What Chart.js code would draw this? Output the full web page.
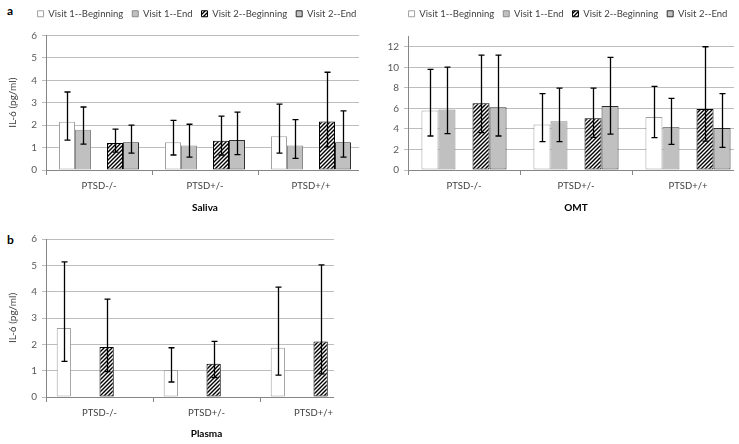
<!DOCTYPE html>
<html>
<head>
<meta charset="utf-8">
<script src="https://cdn.jsdelivr.net/npm/chart.js@4.4.1/dist/chart.umd.min.js"></script>
<style>
  html, body { margin: 0; padding: 0; background: #fff; width: 739px; height: 444px; overflow: hidden; }
  .clip { position: absolute; overflow: hidden; }
  .tag { position: absolute; font: bold 12px Lato, 'Liberation Sans', sans-serif; color: #000; }
</style>
</head>
<body>
<div class="tag" style="left:7px;top:3px">a</div>
<div class="tag" style="left:7px;top:232px">b</div>
<div class="clip" style="left:0;top:0;width:359px;height:222px"><canvas id="saliva" width="379" height="222"></canvas></div>
<div class="clip" style="left:370px;top:0;width:364px;height:222px"><canvas id="omt" width="397" height="222"></canvas></div>
<div class="clip" style="left:0;top:228px;width:334px;height:216px"><canvas id="plasma" width="372" height="216"></canvas></div>
<script>
// IL-6 (pg/ml) by group, visit and time of day

const categories = ['PTSD-/-', 'PTSD+/-', 'PTSD+/+'];
const seriesNames = ['Visit 1--Beginning', 'Visit 1--End', 'Visit 2--Beginning', 'Visit 2--End'];

// Saliva
const salivaV1Begin = [2.15, 1.24, 1.51];
const salivaV1End = [1.79, 1.09, 1.09];
const salivaV2Begin = [1.21, 1.30, 2.16];
const salivaV2End = [1.24, 1.34, 1.24];
// error bar ends [low, high]
const salivaV1BeginErr = [[1.33, 3.48], [0.67, 2.21], [0.75, 2.94]];
const salivaV1EndErr = [[1.15, 2.81], [0.57, 2.04], [0.52, 2.25]];
const salivaV2BeginErr = [[0.80, 1.82], [0.67, 2.40], [1.03, 4.36]];
const salivaV2EndErr = [[0.75, 2.00], [0.69, 2.58], [0.57, 2.64]];

// OMT
const omtV1Begin = [5.80, 4.44, 5.16];
const omtV1End = [5.90, 4.74, 4.18];
const omtV2Begin = [6.49, 5.03, 5.94];
const omtV2End = [6.10, 6.23, 4.09];
const omtV1BeginErr = [[3.31, 9.80], [2.76, 7.43], [3.15, 8.14]];
const omtV1EndErr = [[3.54, 10.02], [2.76, 7.98], [2.50, 6.97]];
const omtV2BeginErr = [[3.63, 11.19], [3.18, 7.98], [2.82, 12.00]];
const omtV2EndErr = [[3.31, 11.19], [3.50, 10.96], [2.20, 7.43]];

// Plasma (beginning of each visit only)
const plasmaV1Begin = [2.62, 1.03, 1.87];
const plasmaV2Begin = [1.90, 1.26, 2.11];
const plasmaV1BeginErr = [[1.35, 5.13], [0.57, 1.87], [0.83, 4.17]];
const plasmaV2BeginErr = [[0.96, 3.72], [0.74, 2.11], [0.88, 5.02]];

Chart.defaults.font.family = 'Lato, "Open Sans", sans-serif';
Chart.defaults.font.size = 10;
Chart.defaults.color = '#404040';

function makeHatch() {
  const c = document.createElement('canvas');
  c.width = 4; c.height = 4;
  const g = c.getContext('2d');
  g.fillStyle = '#fff';
  g.fillRect(0, 0, 4, 4);
  g.strokeStyle = '#000';
  g.lineWidth = 1.4;
  g.beginPath();
  g.moveTo(0, 4); g.lineTo(4, 0);
  g.moveTo(-1, 1); g.lineTo(1, -1);
  g.moveTo(3, 5); g.lineTo(5, 3);
  g.stroke();
  return g.createPattern(c, 'repeat');
}
const hatch = makeHatch();

const styles = [
  { backgroundColor: '#ffffff', borderColor: '#a0a0a0' },
  { backgroundColor: '#c0c0c0', borderColor: '#8a8a8a' },
  { backgroundColor: hatch, borderColor: '#000000' },
  { backgroundColor: '#c0c0c0', borderColor: '#303030' }
];

function barSet(i, data, err) {
  return Object.assign({ label: seriesNames[i], data, err, borderWidth: 1, borderSkipped: false }, styles[i]);
}

function spacer() {
  return { label: '', data: categories.map(() => null), spacer: true };
}

// draws the whiskers from the err arrays
const errorBars = {
  id: 'errorBars',
  afterDatasetsDraw(chart) {
    const ctx = chart.ctx;
    const y = chart.scales.y;
    ctx.save();
    ctx.strokeStyle = '#000';
    ctx.lineWidth = 1.3;
    chart.data.datasets.forEach((ds, i) => {
      if (!ds.err) return;
      chart.getDatasetMeta(i).data.forEach((bar, j) => {
        const [lo, hi] = ds.err[j];
        const x = Math.round(bar.x) + 0.5;
        const y1 = y.getPixelForValue(lo);
        const y2 = y.getPixelForValue(hi);
        ctx.beginPath();
        ctx.moveTo(x, y1); ctx.lineTo(x, y2);
        ctx.moveTo(x - 3, y1); ctx.lineTo(x + 3, y1);
        ctx.moveTo(x - 3, y2); ctx.lineTo(x + 3, y2);
        ctx.stroke();
      });
    });
    ctx.restore();
  }
};

// extra room under the legend, and a small sideways nudge of it
const legendBox = {
  id: 'legendBox',
  beforeInit(chart, args, opts) {
    const legend = chart.legend;
    if (!legend) return;
    const fit = legend.fit;
    legend.fit = function () {
      fit.call(this);
      if (this.options.display) this.height += opts.extra || 0;
    };
  },
  afterLayout(chart, args, opts) {
    if (chart.legend && opts.dx) {
      chart.legend.left += opts.dx;
      chart.legend.right += opts.dx;
    }
  }
};

function makeChart(id, cfg) {
  return new Chart(document.getElementById(id), {
    type: 'bar',
    data: { labels: categories, datasets: cfg.datasets },
    options: {
      responsive: false,
      animation: false,
      devicePixelRatio: 1,
      layout: { padding: cfg.padding },
      datasets: { bar: { categoryPercentage: cfg.catPct, barPercentage: 1 } },
      plugins: {
        legend: {
          display: cfg.legend,
          position: 'top',
          labels: {
            boxWidth: 6,
            boxHeight: 6,
            padding: 9,
            color: '#404040',
            font: { size: 9.5 },
            filter: (item, data) => !data.datasets[item.datasetIndex].spacer
          }
        },
        legendBox: { extra: cfg.legendExtra || 0, dx: cfg.legendDx || 0 },
        tooltip: { enabled: false }
      },
      scales: {
        x: {
          offset: true,
          grid: { offset: true, drawOnChartArea: false, tickLength: 5, color: '#868686' },
          border: { color: '#868686' },
          ticks: { color: '#404040', font: { size: 9.5 }, padding: 5 },
          title: { display: true, text: cfg.xTitle, color: '#000', font: { size: 10, weight: 'bold' }, padding: { top: 0, bottom: cfg.titlePad } },
          afterFit: s => { s.height = cfg.xHeight; }
        },
        y: {
          min: 0,
          max: cfg.yMax,
          ticks: { stepSize: cfg.yStep, includeBounds: false, color: '#595959', font: { size: 10 }, padding: 5 },
          grid: { color: '#bdbdbd', tickLength: 4 },
          border: { color: '#868686' },
          title: { display: !!cfg.yTitle, text: cfg.yTitle, color: '#404040', font: { size: 10 }, padding: { top: 7, bottom: 0 } },
          afterFit: s => { s.width = cfg.yWidth; }
        }
      }
    },
    plugins: [errorBars, legendBox]
  });
}

makeChart('saliva', {
  datasets: [
    barSet(0, salivaV1Begin, salivaV1BeginErr),
    barSet(1, salivaV1End, salivaV1EndErr),
    spacer(),
    barSet(2, salivaV2Begin, salivaV2BeginErr),
    barSet(3, salivaV2End, salivaV2EndErr)
  ],
  legend: true,
  legendDx: 15,
  legendExtra: 7,
  padding: { right: 15 },
  catPct: 0.755,
  xTitle: 'Saliva', titlePad: 8, xHeight: 52,
  yMax: 6, yStep: 1, yTitle: 'IL-6 (pg/ml)', yWidth: 46
});

makeChart('omt', {
  datasets: [
    barSet(0, omtV1Begin, omtV1BeginErr),
    barSet(1, omtV1End, omtV1EndErr),
    spacer(),
    barSet(2, omtV2Begin, omtV2BeginErr),
    barSet(3, omtV2End, omtV2EndErr)
  ],
  legend: true,
  legendDx: 11,
  legendExtra: 8,
  padding: { right: 23 },
  catPct: 0.76,
  xTitle: 'OMT', titlePad: 8, xHeight: 52,
  yMax: 13, yStep: 2, yTitle: '', yWidth: 38
});

makeChart('plasma', {
  datasets: [
    barSet(0, plasmaV1Begin, plasmaV1BeginErr),
    spacer(),
    spacer(),
    barSet(2, plasmaV2Begin, plasmaV2BeginErr),
    spacer(),
    spacer()
  ],
  legend: false,
  padding: { top: 8, right: 5 },
  catPct: 0.80,
  xTitle: 'Plasma', titlePad: 4, xHeight: 47,
  yMax: 6, yStep: 1, yTitle: 'IL-6 (pg/ml)', yWidth: 46
});
</script>
</body>
</html>
